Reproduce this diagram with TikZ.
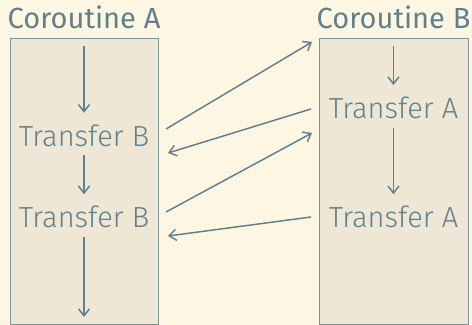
\documentclass[tikz,border=0pt]{standalone}
\usepackage{fontspec}
\setmainfont{Fira Sans}
\newfontfamily\lightfont{Fira Sans Light}
\usetikzlibrary{arrows.meta}
\definecolor{paper}{HTML}{FDF6E3}
\definecolor{lanefill}{HTML}{EEE7D6}
\definecolor{ink}{HTML}{62808A}
\tikzset{
  lane/.style={rectangle,draw=ink!85,fill=lanefill,line width=.75pt,inner sep=0pt},
  title/.style={anchor=base,text=ink,font=\fontsize{21.8}{26}\selectfont,inner sep=0pt},
  xfer/.style={anchor=base,text=ink,font=\lightfont\fontsize{21.8}{26}\selectfont,
    inner xsep=0pt,inner ysep=6.75pt,text height=18pt,text depth=0pt},
  flow/.style={draw=ink,line width=1.1pt,-{Straight Barb[length=5.25pt,width=8.25pt]}},
}
\begin{document}
\begin{tikzpicture}[x=0.75pt,y=-0.75pt]
\fill[paper] (0,0) rectangle (472,325);
\useasboundingbox (0,0) rectangle (472,325);
% the two coroutines
\node[lane,minimum width=111pt,minimum height=214.5pt] (boxA) at (84,181) {};
\node[lane,minimum width=111.75pt,minimum height=214.5pt] (boxB) at (393.5,181) {};
\node[title] (hdA) at (84,28) {Coroutine A};
\node[title] (hdB) at (393.5,28) {Coroutine B};
% transfer points inside each coroutine
\node[xfer] (tA1) at (84,146) {Transfer B};
\node[xfer] (tA2) at (84,227.5) {Transfer B};
\node[xfer] (tB1) at (393.5,118.3) {Transfer A};
\node[xfer] (tB2) at (393.5,227.5) {Transfer A};
\coordinate (inA) at (84,46);
\coordinate (outA) at (84,317);
\coordinate (inB) at (393.5,46);
% control flow within a coroutine
\draw[flow] (inA) -- (tA1);
\draw[flow] (tA1) -- (tA2);
\draw[flow] (tA2) -- (outA);
\draw[flow] (inB) -- (tB1);
\draw[flow] (tB1) -- (tB2);
% hand-overs between the two
\coordinate (a1) at (166,129);
\coordinate (b0) at (312,42);
\coordinate (b1) at (311,109);
\coordinate (a1r) at (168,153);
\coordinate (a2) at (166,212);
\coordinate (b1r) at (312,133);
\coordinate (b2) at (311,217);
\coordinate (a2r) at (168,236);
\draw[flow] (a1) -- (b0);
\draw[flow] (b1) -- (a1r);
\draw[flow] (a2) -- (b1r);
\draw[flow] (b2) -- (a2r);
\end{tikzpicture}
\end{document}
